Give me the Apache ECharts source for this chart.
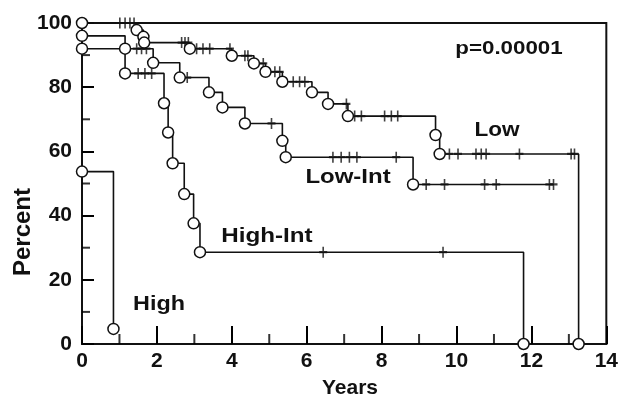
<!DOCTYPE html>
<html>
<head>
<meta charset="utf-8">
<script src="https://cdn.jsdelivr.net/npm/echarts@6/dist/echarts.min.js"></script>
<style>
  html, body { margin: 0; padding: 0; background: #fff; }
  #chart { width: 621px; height: 395px; }
</style>
</head>
<body>
<div id="chart"></div>
<script>
// ---- Data ----
const curveNames = ['Low', 'Low-Int', 'High-Int', 'High'];

const lowStart = 100;
const lowTimes = [1.46, 1.64, 1.66, 2.88, 4.0, 4.59, 4.9, 5.35, 6.14, 6.57, 7.1, 9.44, 9.55, 13.26];
const lowValues = [97.8, 95.7, 93.9, 92.0, 89.8, 87.4, 84.8, 81.7, 78.4, 74.8, 71.0, 65.1, 59.2, 0];
const lowCensor = [1.01, 1.15, 1.28, 1.39, 2.66, 2.75, 2.84, 3.06, 3.23, 3.41, 3.95, 4.35, 4.43, 4.84, 5.15, 5.28, 5.64, 5.81, 5.95, 7.06, 7.28, 7.46, 8.08, 8.26, 8.43, 9.81, 10.04, 10.52, 10.66, 10.79, 11.68, 13.06, 13.15];
const lowEnd = null;

const lowIntStart = 96;
const lowIntTimes = [1.15, 1.9, 2.61, 3.39, 3.75, 4.35, 5.35, 5.44, 8.84];
const lowIntValues = [92.0, 87.6, 83.0, 78.4, 73.7, 68.7, 63.3, 58.2, 49.7];
const lowIntCensor = [1.46, 1.59, 1.72, 2.81, 5.06, 6.70, 6.92, 7.14, 7.34, 8.39, 9.19, 9.68, 10.75, 11.06, 12.48, 12.59];
const lowIntEnd = 12.6;

const highIntStart = 92;
const highIntTimes = [1.15, 2.19, 2.3, 2.42, 2.73, 2.98, 3.15, 11.79];
const highIntValues = [84.3, 75.0, 65.9, 56.3, 46.7, 37.6, 28.6, 0];
const highIntCensor = [1.5, 1.68, 1.86, 6.44, 9.64];
const highIntEnd = null;

const highStart = 53.7;
const highTimes = [0.84];
const highValues = [4.7];
const highCensor = [];
const highEnd = null;

const xTicks = [0, 2, 4, 6, 8, 10, 12, 14];
const xMinorTicks = [1, 3, 5, 7, 9, 11, 13];
const yTicks = [0, 20, 40, 60, 80, 100];
const yMinorTicks = [10, 30, 50, 70, 90];
const pValueText = 'p=0.00001';

// ---- Build series ----
const curves = [
  { start: lowStart, times: lowTimes, values: lowValues, censor: lowCensor, end: lowEnd },
  { start: lowIntStart, times: lowIntTimes, values: lowIntValues, censor: lowIntCensor, end: lowIntEnd },
  { start: highIntStart, times: highIntTimes, values: highIntValues, censor: highIntCensor, end: highIntEnd },
  { start: highStart, times: highTimes, values: highValues, censor: highCensor, end: highEnd }
];

function valueAt(c, t) {
  let v = c.start;
  for (let i = 0; i < c.times.length; i++) if (c.times[i] <= t) v = c.values[i];
  return v;
}

const plusPath = 'path://M4,0L6,0L6,10L4,10Z M0,4L10,4L10,6L0,6Z';

const series = [];
// minor ticks (inside) placed through the axis scales
series.push({ name: 'x minor ticks', type: 'scatter', data: xMinorTicks.map(v => [v, 0]),
  symbol: 'rect', symbolSize: [2, 10], symbolOffset: [0, -5], clip: false, itemStyle: { color: '#000' } });
series.push({ name: 'y minor ticks', type: 'scatter', data: yMinorTicks.map(v => [0, v]),
  symbol: 'rect', symbolSize: [8, 2], symbolOffset: [4, 0], clip: false, itemStyle: { color: '#000' } });

curves.forEach((c, idx) => {
  const stepData = [[0, c.start]].concat(c.times.map((t, i) => [t, c.values[i]]));
  const lineData = stepData.slice();
  if (c.end !== null) lineData.push([c.end, c.values[c.values.length - 1]]);
  series.push({
    name: curveNames[idx] + ' line', type: 'line', step: 'end', data: lineData,
    symbol: 'none', clip: false, silent: true, z: 2,
    lineStyle: { color: '#111', width: 1.6 }
  });
  series.push({
    name: curveNames[idx] + ' censored', type: 'scatter', data: c.censor.map(t => [t, valueAt(c, t)]),
    symbol: plusPath, symbolSize: [8, 11], clip: false, silent: true, z: 3,
    itemStyle: { color: '#111' }
  });
  series.push({
    name: curveNames[idx] + ' events', type: 'scatter', data: stepData,
    symbol: 'circle', symbolSize: 11, clip: false, silent: true, z: 4,
    itemStyle: { color: '#fff', borderColor: '#111', borderWidth: 1.5, opacity: 1 }
  });
});

const boldFont = (s) => 'bold ' + s + 'px "Liberation Sans", Arial, Helvetica, sans-serif';

const chart = echarts.init(document.getElementById('chart'), null, { renderer: 'canvas' });
chart.setOption({
  animation: false,
  backgroundColor: '#fff',
  grid: { left: 82, right: 14, top: 23, bottom: 51, show: true, borderColor: '#111', borderWidth: 2, backgroundColor: 'transparent' },
  xAxis: {
    type: 'value', min: xTicks[0], max: xTicks[xTicks.length - 1], interval: 2,
    axisLine: { show: true, lineStyle: { color: '#111', width: 2 } },
    axisTick: { show: true, inside: true, length: 18, lineStyle: { color: '#000', width: 2 } },
    splitLine: { show: false },
    axisLabel: { color: '#111', fontWeight: 'bold', fontSize: 21, margin: 7 }
  },
  yAxis: {
    type: 'value', min: yTicks[0], max: yTicks[yTicks.length - 1], interval: 20,
    axisLine: { show: true, lineStyle: { color: '#111', width: 2 } },
    axisTick: { show: true, inside: true, length: 12, lineStyle: { color: '#000', width: 2 } },
    splitLine: { show: false },
    axisLabel: { color: '#111', fontWeight: 'bold', fontSize: 21, margin: 10 }
  },
  series: series,
  graphic: [
    { type: 'text', x: 509, y: 49, scaleX: 1.24, style: { text: pValueText, font: boldFont(18), fill: '#111', align: 'center', verticalAlign: 'middle' } },
    { type: 'text', x: 497, y: 130, scaleX: 1.1, style: { text: curveNames[0], font: boldFont(20.5), fill: '#111', align: 'center', verticalAlign: 'middle' } },
    { type: 'text', x: 348, y: 177, scaleX: 1.17, style: { text: curveNames[1], font: boldFont(20.5), fill: '#111', align: 'center', verticalAlign: 'middle' } },
    { type: 'text', x: 267, y: 236, scaleX: 1.18, style: { text: curveNames[2], font: boldFont(20.5), fill: '#111', align: 'center', verticalAlign: 'middle' } },
    { type: 'text', x: 159, y: 304, scaleX: 1.14, style: { text: curveNames[3], font: boldFont(20.5), fill: '#111', align: 'center', verticalAlign: 'middle' } },
    { type: 'text', x: 350, y: 388, style: { text: 'Years', font: boldFont(21), fill: '#111', align: 'center', verticalAlign: 'middle' } },
    { type: 'text', x: 23, y: 232, rotation: Math.PI / 2, style: { text: 'Percent', font: boldFont(24), fill: '#111', align: 'center', verticalAlign: 'middle' } }
  ]
});
</script>
</body>
</html>
